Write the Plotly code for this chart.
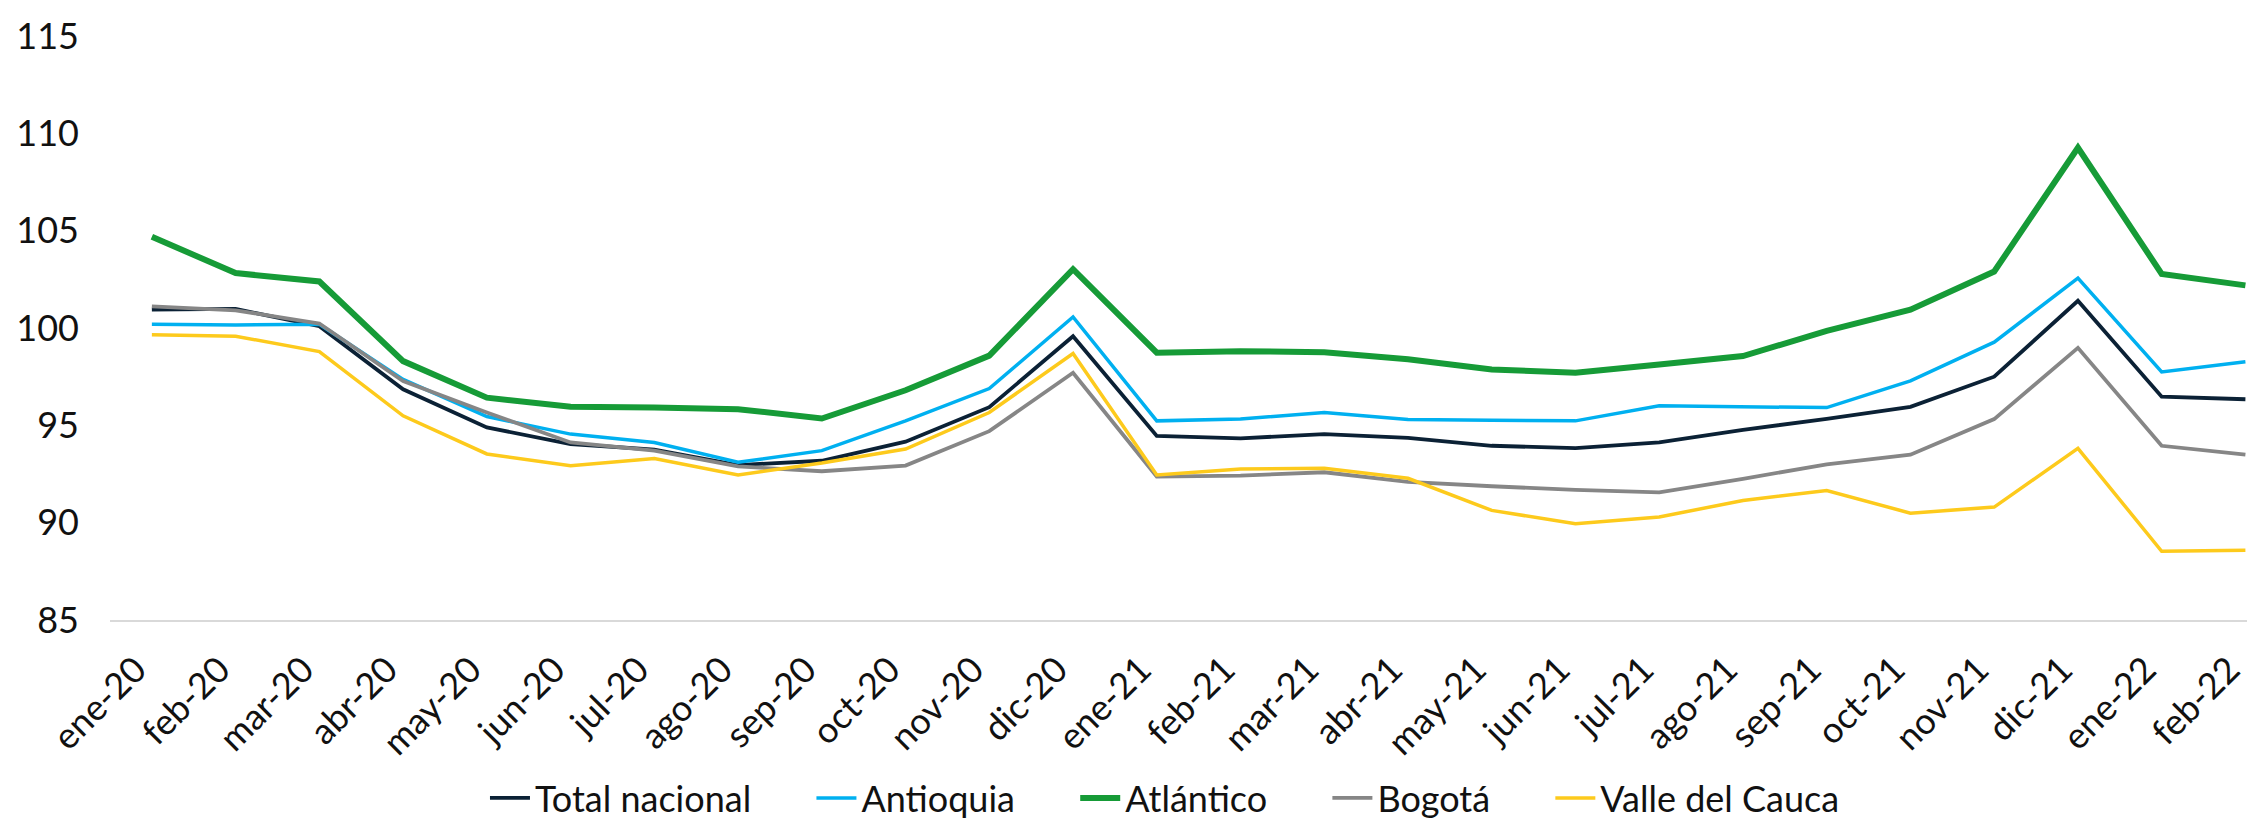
import plotly.graph_objects as go

months = ["ene-20", "feb-20", "mar-20", "abr-20", "may-20", "jun-20", "jul-20", "ago-20",
          "sep-20", "oct-20", "nov-20", "dic-20", "ene-21", "feb-21", "mar-21", "abr-21",
          "may-21", "jun-21", "jul-21", "ago-21", "sep-21", "oct-21", "nov-21", "dic-21",
          "ene-22", "feb-22"]

total_nacional = [100.94, 100.98, 100.09, 96.85, 94.89, 94.04, 93.75, 92.96, 93.18, 94.16,
                  95.93, 99.58, 94.46, 94.33, 94.55, 94.36, 93.95, 93.83, 94.12, 94.77,
                  95.33, 95.95, 97.50, 101.40, 96.47, 96.34]
antioquia = [100.19, 100.16, 100.19, 97.36, 95.45, 94.55, 94.12, 93.10, 93.70, 95.23,
             96.89, 100.57, 95.23, 95.32, 95.66, 95.30, 95.26, 95.23, 96.00, 95.95,
             95.91, 97.28, 99.27, 102.56, 97.74, 98.27]
atlantico = [104.69, 102.82, 102.39, 98.30, 96.42, 95.95, 95.91, 95.83, 95.35, 96.80,
             98.58, 103.02, 98.73, 98.81, 98.76, 98.40, 97.87, 97.70, 98.13, 98.56,
             99.85, 100.94, 102.90, 109.26, 102.78, 102.19]
bogota = [101.11, 100.91, 100.23, 97.28, 95.66, 94.12, 93.70, 92.89, 92.64, 92.93,
          94.70, 97.70, 92.37, 92.42, 92.59, 92.10, 91.87, 91.68, 91.56, 92.25,
          93.00, 93.49, 95.32, 98.98, 93.95, 93.49]
valle = [99.65, 99.58, 98.79, 95.49, 93.53, 92.93, 93.30, 92.45, 93.06, 93.78,
         95.66, 98.69, 92.45, 92.76, 92.79, 92.28, 90.63, 89.94, 90.29, 91.14,
         91.65, 90.49, 90.80, 93.82, 88.53, 88.58]

y_ticks = [85, 90, 95, 100, 105, 110, 115]

series = [
    ("Total nacional", total_nacional, "#0b2135", 3.8),
    ("Antioquia", antioquia, "#00b0f0", 3.5),
    ("Atlántico", atlantico, "#169b37", 6),
    ("Bogotá", bogota, "#868686", 3.8),
    ("Valle del Cauca", valle, "#fdca1c", 3.5),
]

FONT = "Lato"
PAD = "\u00a0" * 6

fig = go.Figure()
for i, (name, vals, color, w) in enumerate(series):
    label = name if i == len(series) - 1 else name + PAD
    fig.add_trace(go.Scatter(
        x=list(range(len(months))), y=vals, name=label, mode="lines",
        line=dict(color=color, width=w),
    ))

fig.update_layout(
    width=2255, height=820,
    margin=dict(l=102, r=0, t=28, b=205),
    paper_bgcolor="white", plot_bgcolor="white",
    font=dict(family=FONT, size=36, color="#111111"),
    showlegend=True,
    legend=dict(orientation="h", x=0.49, xanchor="center", y=-0.305, yanchor="middle",
                font=dict(family=FONT, size=36, color="#111111"),
                itemwidth=40, tracegroupgap=0, bgcolor="rgba(0,0,0,0)"),
    xaxis=dict(
        tickmode="array", tickvals=list(range(len(months))), ticktext=months,
        range=[-0.5, 25.21], tickangle=-45, showgrid=False, zeroline=False,
        showline=True, linecolor="#d9d9d9", linewidth=2, ticks="",
        tickfont=dict(family=FONT, size=36, color="#111111"),
        ticklabelstandoff=12, ticklabelshift=-16, ticklabeloverflow="allow",
    ),
    yaxis=dict(
        range=[85, 115], tickvals=y_ticks, showgrid=False, zeroline=False,
        showline=False, ticks="", tickfont=dict(family=FONT, size=36, color="#111111"),
        ticklabelstandoff=30,
    ),
)

fig.write_html("out.html")
